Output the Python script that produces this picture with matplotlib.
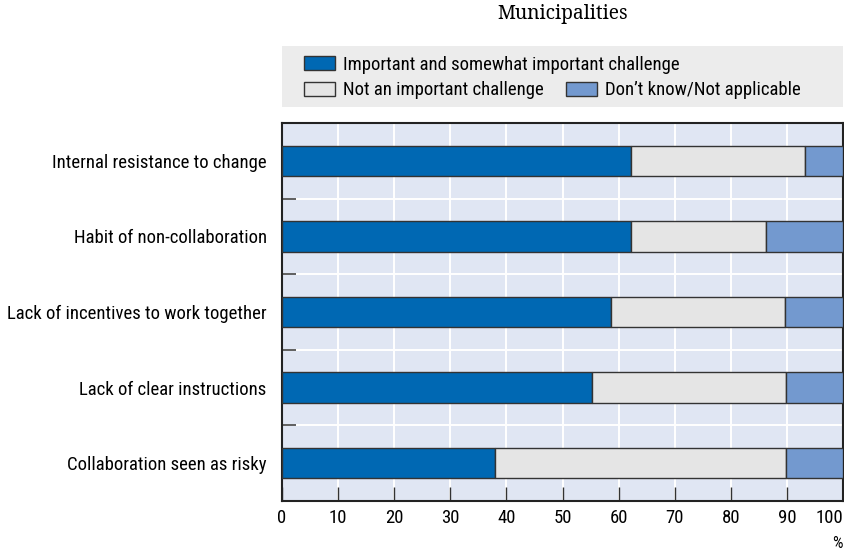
import numpy as np
import matplotlib.pyplot as plt
from matplotlib.patches import Patch

# Survey shares (%), municipalities
categories = ["Internal resistance to change",
              "Habit of non-collaboration",
              "Lack of incentives to work together",
              "Lack of clear instructions",
              "Collaboration seen as risky"]
important = [62.2, 62.2, 58.7, 55.3, 37.9]
not_important = [31.0, 24.1, 31.0, 34.5, 51.9]
dont_know = [6.8, 13.7, 10.3, 10.2, 10.2]

series_names = ["Important and somewhat important challenge",
                "Not an important challenge",
                "Don\u2019t know/Not applicable"]
colors = ["#0068b3", "#e5e5e5", "#7399cf"]

plt.rcParams['font.family'] = ['Roboto Condensed', 'DejaVu Sans']
FS = 13.5

fig = plt.figure(figsize=(8.45, 5.51), dpi=100)
ax = fig.add_axes([282 / 845, 1 - 501 / 551, 561 / 845, 378 / 551])
ax.set_facecolor("#e0e6f3")

y = np.arange(len(categories))
left = np.zeros(len(categories))
for vals, col in zip([important, not_important, dont_know], colors):
    ax.barh(y, vals, left=left, height=0.4, color=col,
            edgecolor="#333333", linewidth=1.0, zorder=3)
    left += np.array(vals)

ax.set_xlim(0, 100)
ax.set_ylim(4.5, -0.5)

ax.set_xticks(np.arange(0, 101, 10))
ax.set_xticklabels([str(v) for v in range(0, 101, 10)], fontsize=FS)
ax.tick_params(axis="x", direction="in", length=10, width=1, color="#333333", pad=6)
ax.get_xticklabels()[-1].set_ha("right")

ax.set_yticks(y)
ax.set_yticklabels(categories, fontsize=FS)
ax.set_yticks(y[:-1] + 0.5, minor=True)
ax.tick_params(axis="y", which="major", length=0, pad=11)
ax.tick_params(axis="y", which="minor", direction="in", length=10, width=1.2, color="#444444")

ax.grid(axis="x", which="major", color="white", linewidth=1.4, zorder=1)
ax.grid(axis="y", which="minor", color="white", linewidth=1.4, zorder=1)
ax.set_axisbelow(True)

for sp in ax.spines.values():
    sp.set_color("#222222")
    sp.set_linewidth(1.5)

fig.text(843 / 845, 1 - 543 / 551, "%", ha="right", va="center", fontsize=FS - 1.5)

# Title
fig.text(563 / 845, 1 - 14 / 551, "Municipalities", ha="center", va="center",
         fontsize=13.8, family="Noto Serif")

# Legend panel
lax = fig.add_axes([282 / 845, 1 - 107 / 551, 561 / 845, 61 / 551])
lax.set_facecolor("#ececec")
lax.set_xticks([])
lax.set_yticks([])
for sp in lax.spines.values():
    sp.set_visible(False)
handles = [Patch(facecolor=c, edgecolor="#333333", linewidth=1) for c in colors]
kw = dict(loc="upper left", frameon=False, fontsize=FS, handlelength=1.65,
          handleheight=0.75, handletextpad=0.4, borderpad=0, borderaxespad=0)
leg1 = lax.legend([handles[0]], [series_names[0]],
                  bbox_to_anchor=(0.04, 0.84), **kw)
lax.add_artist(leg1)
lax.legend(handles[1:], series_names[1:], ncol=2,
           bbox_to_anchor=(0.04, 0.42), columnspacing=1.2, **kw)

fig.savefig("out.png", dpi=100)
